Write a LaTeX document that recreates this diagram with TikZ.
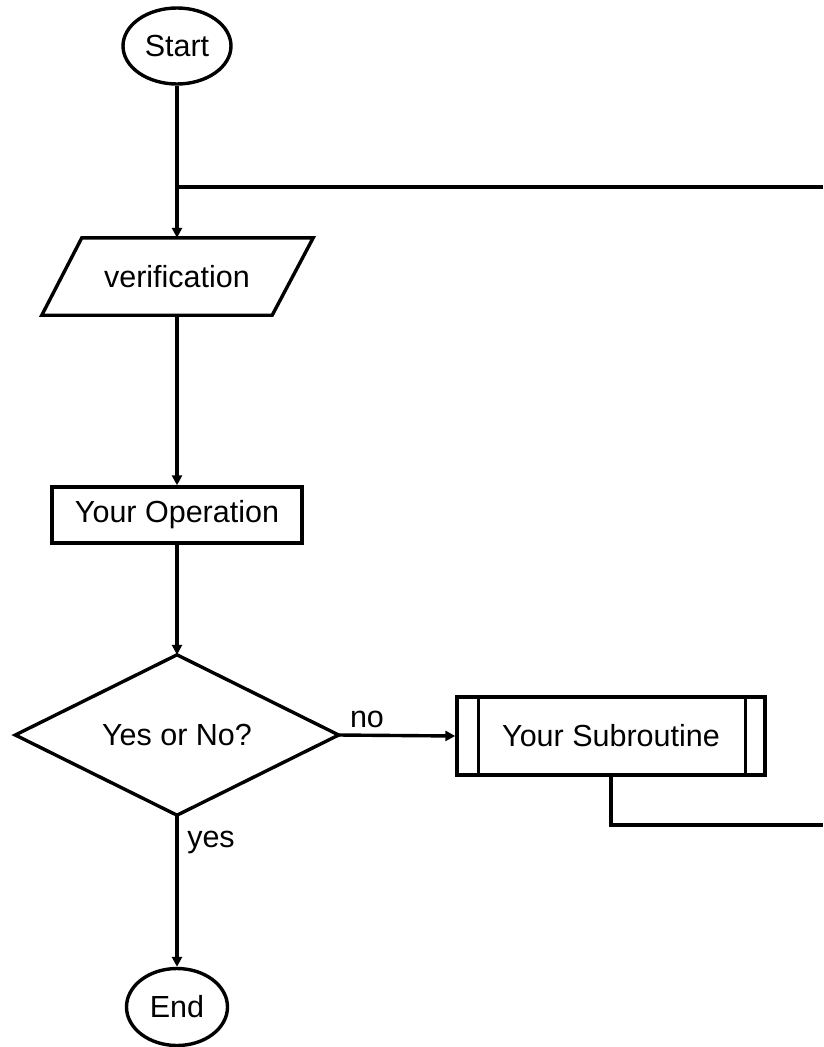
\documentclass[tikz,border=0pt]{standalone}
\usepackage{fontspec}
\setmainfont{Liberation Sans}
\usetikzlibrary{shapes.geometric,arrows.meta,calc}
\begin{document}
\begin{tikzpicture}[x=1pt,y=-1pt,
  every node/.style={font=\fontsize{30.5pt}{36pt}\selectfont, inner sep=0pt},
  shapeline/.style={draw, line width=3.4pt, line join=miter},
  term/.style={ellipse, shapeline},
  opbox/.style={rectangle, shapeline},
  conn/.style={line width=3.4pt},
  arr/.style={conn, -{Triangle[length=10pt,width=10pt]}},
  lbl/.style={anchor=base}]
\useasboundingbox (0,0) rectangle (823,1047);
\fill[white] (0,0) rectangle (823,1047);

\node[term, minimum width=108pt, minimum height=76pt] (start) at (177,46) {Start};

\node[minimum width=230pt, minimum height=77pt] (ver) at (177,276.5) {verification};
\draw[shapeline] ([xshift=20pt]ver.north west) -- ([xshift=21pt]ver.north east)
  -- ([xshift=-20pt]ver.south east) -- ([xshift=-20pt]ver.south west) -- cycle;

\node[opbox, minimum width=250pt, minimum height=56pt] (op) at (177,515) {Your Operation};

\node[minimum width=323pt, minimum height=160pt] (dec) at (177,735) {Yes or No?};
\draw[shapeline] (dec.north) -- (dec.east) -- (dec.south) -- (dec.west) -- cycle;

\node[opbox, minimum width=308pt, minimum height=78pt] (sub) at (611,736) {Your Subroutine};
\draw[shapeline] ([xshift=23pt]sub.north west) -- ([xshift=23pt]sub.south west);
\draw[shapeline] ([xshift=-21pt]sub.north east) -- ([xshift=-21pt]sub.south east);

\node[term, minimum width=101pt, minimum height=77pt] (end) at (177,1007) {End};

\coordinate (r1) at (823,187);
\coordinate (r2) at (823,825);

\draw[arr] (start) -- (ver.north);
\draw[conn] (r1 -| start) -- (r1);
\draw[arr] (ver.south) -- (op.north);
\draw[arr] (op.south) -- (dec.north);
\draw[arr] (dec.east) -- (sub.west);
\draw[arr] (dec.south) -- (end.north);
\draw[conn] (sub.south) -- (sub.south |- r2) -- (r2);

\node[lbl] (nolbl) at (367,727) {no};
\node[lbl] (yeslbl) at (211,847) {yes};
\end{tikzpicture}
\end{document}
